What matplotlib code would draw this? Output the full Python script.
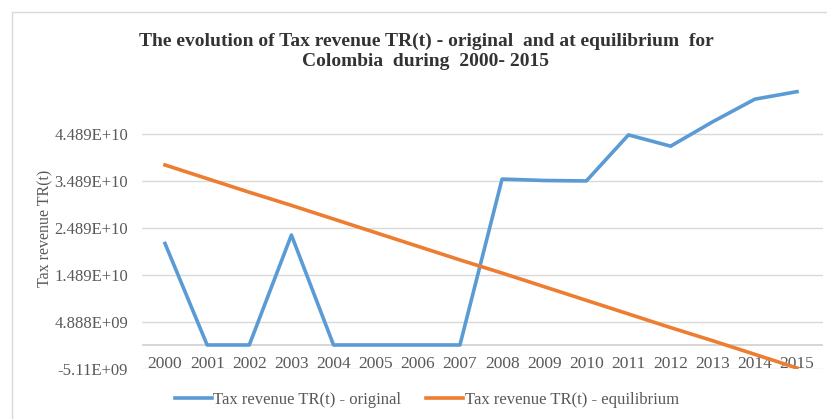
import matplotlib
matplotlib.use("Agg")
import matplotlib.pyplot as plt
from matplotlib.patches import Rectangle

# Data (tax revenue in currency units)
years = list(range(2000, 2016))
tr_original = [2.16e10, 0.0, 0.0, 2.34e10, 0.0, 0.0, 0.0, 0.0,
               3.53e10, 3.50e10, 3.49e10, 4.47e10, 4.23e10, 4.75e10, 5.23e10, 5.39e10]
tr_equilibrium = [3.83e10, 3.54e10, 3.25e10, 2.97e10, 2.68e10, 2.39e10, 2.10e10, 1.81e10,
                  1.53e10, 1.24e10, 0.95e10, 0.66e10, 0.37e10, 0.09e10, -0.20e10, -0.49e10]
y_ticks = [4.489e10, 3.489e10, 2.489e10, 1.489e10, 4.888e9, -5.112e9]
y_tick_labels = ["4.489E+10", "3.489E+10", "2.489E+10", "1.489E+10", "4.888E+09", "-5.11E+09"]

BLUE = "#5B9BD5"
ORANGE = "#ED7D31"
GRID = "#D9D9D9"
TXT = "#595959"
SERIF = ["Liberation Serif", "DejaVu Serif"]

W, H = 828, 419
fig = plt.figure(figsize=(W / 100, H / 100), dpi=100)

# chart border
fig.patches.append(Rectangle((12 / W, -0.1), 1.2, 1 - 12 / H + 0.1,
                             transform=fig.transFigure, fill=False,
                             edgecolor="#D9D9D9", linewidth=1.0))

ax = fig.add_axes([142 / W, 1 - 369 / H, (823 - 142) / W, (369 - 87) / H])
ax.set_xlim(1999.454, 2015.617)
ax.set_ylim(-5.112e9, 5.489e10)

for s in ax.spines.values():
    s.set_visible(False)

ax.set_yticks(y_ticks)
ax.set_yticklabels(y_tick_labels, fontfamily=SERIF, fontsize=12, color=TXT)
ax.yaxis.grid(True, color=GRID, linewidth=1.0)
ax.axhline(0, color="#D0D0D0", linewidth=1.2, zorder=1)
ax.set_axisbelow(True)
ax.tick_params(axis="y", length=0, pad=10)

ax.set_xticks(years)
ax.set_xticklabels([str(y) for y in years], fontfamily=SERIF, fontsize=12.5, color=TXT)
ax.tick_params(axis="x", length=0, pad=-9.5)

ax.set_ylabel("Tax revenue TR(t)", fontfamily=SERIF, fontsize=11.5, color=TXT, labelpad=1)

ax.plot(years, tr_original, color=BLUE, linewidth=2.6, solid_joinstyle="round",
        label="Tax revenue TR(t) - original", zorder=3)
ax.plot(years, tr_equilibrium, color=ORANGE, linewidth=2.6, solid_joinstyle="round",
        label="Tax revenue TR(t) - equilibrium", zorder=3)

fig.text(426 / W, 1 - 41 / H,
         "The evolution of Tax revenue TR(t) - original  and at equilibrium  for",
         ha="center", va="center", fontfamily=SERIF, fontweight="bold",
         fontsize=14, color="#333333")
fig.text(426 / W, 1 - 62 / H, "Colombia  during  2000- 2015",
         ha="center", va="center", fontfamily=SERIF, fontweight="bold",
         fontsize=14, color="#333333")

leg = ax.legend(loc="center", bbox_to_anchor=(427 / W, 1 - 400 / H),
                bbox_transform=fig.transFigure, ncol=2, frameon=False,
                prop={"family": SERIF, "size": 12}, handlelength=2.2,
                handletextpad=0.1, columnspacing=1.5)
for t in leg.get_texts():
    t.set_color(TXT)

fig.savefig("out.png", dpi=100)
